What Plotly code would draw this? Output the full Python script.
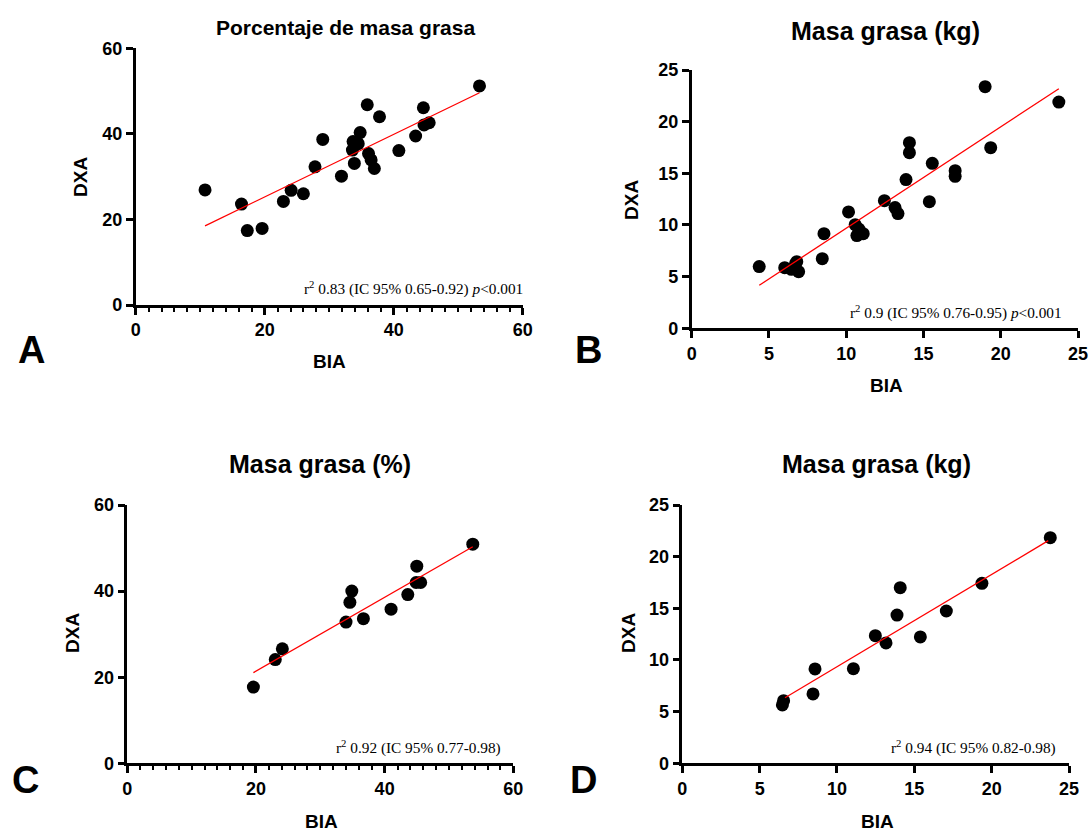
import plotly.graph_objects as go

W, H = 1091, 831

# ---------------- data ----------------
a_bia = [10.75, 16.4, 17.3, 19.6, 22.9, 24.1, 26.0, 27.8, 29.0, 31.9, 33.6, 33.7, 33.9, 34.5, 34.8,
         35.9, 36.1, 36.5, 37.0, 37.8, 40.8, 43.4, 44.6, 44.7, 45.5, 53.3]
a_dxa = [26.9, 23.6, 17.4, 17.9, 24.2, 26.8, 26.0, 32.3, 38.7, 30.1, 36.2, 38.2, 33.1, 37.7, 40.3,
         46.8, 35.4, 33.9, 31.9, 44.0, 36.1, 39.5, 46.1, 42.1, 42.6, 51.2]
a_fit_x = [10.75, 53.3]
a_fit_y = [18.5, 49.6]

b_bia = [4.37, 6.02, 6.45, 6.71, 6.80, 6.92, 8.45, 8.56, 10.15, 10.58, 10.69, 10.82, 11.10, 12.47,
         13.16, 13.35, 13.87, 14.09, 14.09, 15.38, 15.57, 17.05, 17.05, 18.99, 19.35, 23.76]
b_dxa = [5.97, 5.87, 5.71, 6.23, 6.45, 5.48, 6.74, 9.16, 11.26, 10.03, 8.97, 9.61, 9.16, 12.35,
         11.68, 11.10, 14.39, 17.97, 17.0, 12.26, 15.97, 15.26, 14.71, 23.39, 17.48, 21.9]
b_fit_x = [4.37, 23.76]
b_fit_y = [4.16, 23.19]

c_bia = [19.6, 23.0, 24.1, 34.0, 34.6, 34.9, 36.7, 41.0, 43.6, 45.0, 44.9, 45.6, 53.7]
c_dxa = [17.7, 24.1, 26.6, 32.8, 37.4, 40.0, 33.6, 35.8, 39.2, 45.8, 42.0, 42.0, 50.9]
c_fit_x = [19.6, 53.7]
c_fit_y = [21.05, 50.3]

d_bia = [6.47, 6.55, 8.45, 8.58, 11.06, 12.48, 13.17, 13.88, 14.09, 15.39, 17.07, 19.37, 23.79]
d_dxa = [5.65, 6.06, 6.71, 9.13, 9.16, 12.35, 11.65, 14.35, 17.0, 12.23, 14.74, 17.42, 21.84]
d_fit_x = [6.64, 23.66]
d_fit_y = [6.35, 21.55]

titles = ["Porcentaje de masa grasa", "Masa grasa (kg)", "Masa grasa (%)", "Masa grasa (kg)"]
stats = ["r<sup>2</sup> 0.83 (IC 95% 0.65-0.92) <i>p</i>&lt;0.001",
         "r<sup>2</sup> 0.9 (IC 95% 0.76-0.95) <i>p</i>&lt;0.001",
         "r<sup>2</sup> 0.92 (IC 95% 0.77-0.98)",
         "r<sup>2</sup> 0.94 (IC 95% 0.82-0.98)"]
letters = ["A", "B", "C", "D"]
x_ranges = [[0, 60], [0, 25], [0, 60], [0, 25]]
y_ranges = [[0, 60], [0, 25], [0, 60], [0, 25]]
x_dticks = [20, 5, 20, 5]
y_dticks = [20, 5, 20, 5]
x_minor = [2, None, 2, None]

# ---------------- layout geometry (pixels) ----------------
panels_px = [  # x0, x1, ytop, ybottom
    (135.7, 522.7, 48.3, 305.0),
    (691.7, 1078.0, 70.0, 328.3),
    (127.3, 513.3, 505.0, 763.3),
    (682.3, 1069.0, 505.0, 763.3),
]
title_pos = [(345, 27, 21), (885, 31, 25), (320, 464, 25), (876, 464, 25)]
stat_pos = [(525, 288), (1064, 311.7), (503, 746.7), (1058, 746.7)]
dxa_pos = [(80, 177), (631, 200), (72, 633), (628, 633)]
bia_pos = [(329, 361), (886, 385), (321, 821), (877, 821)]
letter_pos = [(31, 350), (588, 350), (25, 780), (583, 780)]


def fx(px):
    return px / W


def fy(py):
    return 1 - py / H


FONT = "Arial, Liberation Sans, sans-serif"
SERIF = "Times New Roman, Liberation Serif, serif"

fig = go.Figure()
data = [(a_bia, a_dxa, a_fit_x, a_fit_y), (b_bia, b_dxa, b_fit_x, b_fit_y),
        (c_bia, c_dxa, c_fit_x, c_fit_y), (d_bia, d_dxa, d_fit_x, d_fit_y)]

annotations = []
for i, (xs, ys, fxs, fys) in enumerate(data):
    sfx = "" if i == 0 else str(i + 1)
    xa, ya = "x" + sfx, "y" + sfx
    fig.add_trace(go.Scatter(x=xs, y=ys, mode="markers", xaxis=xa, yaxis=ya,
                             marker=dict(color="black", size=13), showlegend=False,
                             cliponaxis=False))
    fig.add_trace(go.Scatter(x=fxs, y=fys, mode="lines", xaxis=xa, yaxis=ya,
                             line=dict(color="#ff0000", width=1.3), showlegend=False))
    x0, x1, yt, yb = panels_px[i]
    common = dict(showline=True, linecolor="black", linewidth=2.5, ticks="outside",
                  ticklen=7, tickwidth=2.5, tickcolor="black", showgrid=False,
                  zeroline=False, fixedrange=True, automargin=False,
                  tickfont=dict(family=FONT, size=18, color="black", weight="bold"))
    xaxis = dict(common, domain=[fx(x0), fx(x1)], range=x_ranges[i], dtick=x_dticks[i],
                 tick0=0, anchor=ya)
    if x_minor[i]:
        xaxis["minor"] = dict(ticks="outside", ticklen=4, tickwidth=2, tickcolor="black",
                              dtick=x_minor[i], tick0=0, showgrid=False)
    yaxis = dict(common, domain=[fy(yb), fy(yt)], range=y_ranges[i], dtick=y_dticks[i],
                 tick0=0, anchor=xa)
    fig.update_layout(**{"xaxis" + sfx: xaxis, "yaxis" + sfx: yaxis})

    tx, ty, ts = title_pos[i]
    annotations.append(dict(x=fx(tx), y=fy(ty), xref="paper", yref="paper", text=titles[i],
                            showarrow=False, xanchor="center", yanchor="middle",
                            font=dict(family=FONT, size=ts, color="black", weight="bold")))
    sx, sy = stat_pos[i]
    annotations.append(dict(x=fx(sx), y=fy(sy), xref="paper", yref="paper", text=stats[i],
                            showarrow=False, xanchor="right", yanchor="middle",
                            font=dict(family=SERIF, size=15.3, color="black")))
    dx, dy = dxa_pos[i]
    annotations.append(dict(x=fx(dx), y=fy(dy), xref="paper", yref="paper", text="DXA",
                            showarrow=False, xanchor="center", yanchor="middle", textangle=-90,
                            font=dict(family=FONT, size=19, color="black", weight="bold")))
    bx, by = bia_pos[i]
    annotations.append(dict(x=fx(bx), y=fy(by), xref="paper", yref="paper", text="BIA",
                            showarrow=False, xanchor="center", yanchor="middle",
                            font=dict(family=FONT, size=19, color="black", weight="bold")))
    lx, ly = letter_pos[i]
    annotations.append(dict(x=fx(lx), y=fy(ly), xref="paper", yref="paper", text=letters[i],
                            showarrow=False, xanchor="center", yanchor="middle",
                            font=dict(family=FONT, size=38, color="black", weight="bold")))

fig.update_layout(template="none", width=W, height=H, margin=dict(l=0, r=0, t=0, b=0, pad=0),
                  autosize=False, paper_bgcolor="white", plot_bgcolor="white",
                  annotations=annotations)

fig.write_html("out.html", config={"displayModeBar": False},
               post_script="document.body.style.margin='0px';"
                           "document.body.style.overflow='hidden';")
